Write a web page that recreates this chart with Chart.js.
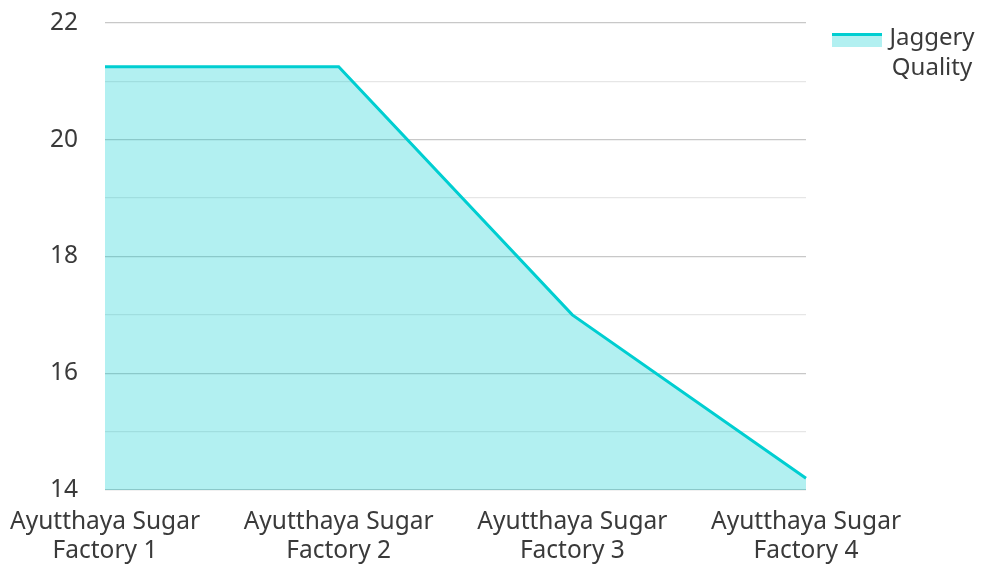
<!DOCTYPE html>
<html>
<head>
<meta charset="utf-8">
<script src="https://cdn.jsdelivr.net/npm/chart.js@4.4.1/dist/chart.umd.min.js"></script>
<style>
html,body{margin:0;padding:0;background:#fff;}
#wrap{width:983px;height:566px;position:relative;}
</style>
</head>
<body>
<div id="wrap"><canvas id="c" width="983" height="566"></canvas></div>
<script>
const categories = [
  ['Ayutthaya Sugar', 'Factory 1'],
  ['Ayutthaya Sugar', 'Factory 2'],
  ['Ayutthaya Sugar', 'Factory 3'],
  ['Ayutthaya Sugar', 'Factory 4']
];
const seriesName = ['Jaggery', 'Quality'];
const jaggeryQuality = [21.25, 21.25, 17.0, 14.2];
const yMin = 14, yMax = 22, yStep = 1;

const FONT = '"Noto Sans", sans-serif';
const TEXT = '#3a3a3a';
const LINE = 'rgb(0,206,209)';
const FILL = 'rgba(0,206,209,0.3)';

const legendPlugin = {
  id: 'sideLegend',
  afterDraw(chart) {
    const ctx = chart.ctx;
    const x0 = 832, y0 = 33;
    ctx.save();
    ctx.fillStyle = FILL;
    ctx.fillRect(x0, y0, 50, 14);
    ctx.fillStyle = LINE;
    ctx.fillRect(x0, y0, 50, 3);
    ctx.fillStyle = TEXT;
    ctx.font = '24px ' + FONT;
    ctx.textBaseline = 'alphabetic';
    ctx.textAlign = 'center';
    ctx.fillText(seriesName[0], 932, 45);
    ctx.fillText(seriesName[1], 932, 75);
    ctx.restore();
  }
};

new Chart(document.getElementById('c'), {
  type: 'line',
  data: {
    labels: categories,
    datasets: [{
      label: seriesName.join(' '),
      data: jaggeryQuality,
      borderColor: LINE,
      backgroundColor: FILL,
      borderWidth: 3,
      fill: 'start',
      pointRadius: 0,
      pointHoverRadius: 0,
      tension: 0
    }]
  },
  options: {
    responsive: false,
    animation: false,
    layout: { padding: { top: 23, right: 177, bottom: 0, left: 4 } },
    plugins: { legend: { display: false }, tooltip: { enabled: false } },
    scales: {
      x: {
        offset: false,
        grid: { display: false, drawTicks: false },
        border: { display: false },
        afterFit: (s) => { s.height = 76; s.paddingLeft = 105; },
        ticks: { color: TEXT, font: { family: FONT, size: 24.5, lineHeight: 1.2 }, maxRotation: 0, autoSkip: false, padding: 17 }
      },
      y: {
        min: yMin, max: yMax,
        border: { display: false },
        afterFit: (s) => { s.paddingTop = 14; s.paddingBottom = 14; },
        grid: {
          drawTicks: false,
          lineWidth: 1.3,
          color: (c) => (c.tick && c.tick.value % 2 === 0) ? '#c8c8c8' : '#e6e6e6'
        },
        ticks: {
          stepSize: yStep,
          padding: 27,
          color: TEXT,
          font: { family: FONT, size: 24.5 },
          callback: (v) => (v % 2 === 0 ? v : '')
        }
      }
    }
  },
  plugins: [legendPlugin]
});
</script>
</body>
</html>
